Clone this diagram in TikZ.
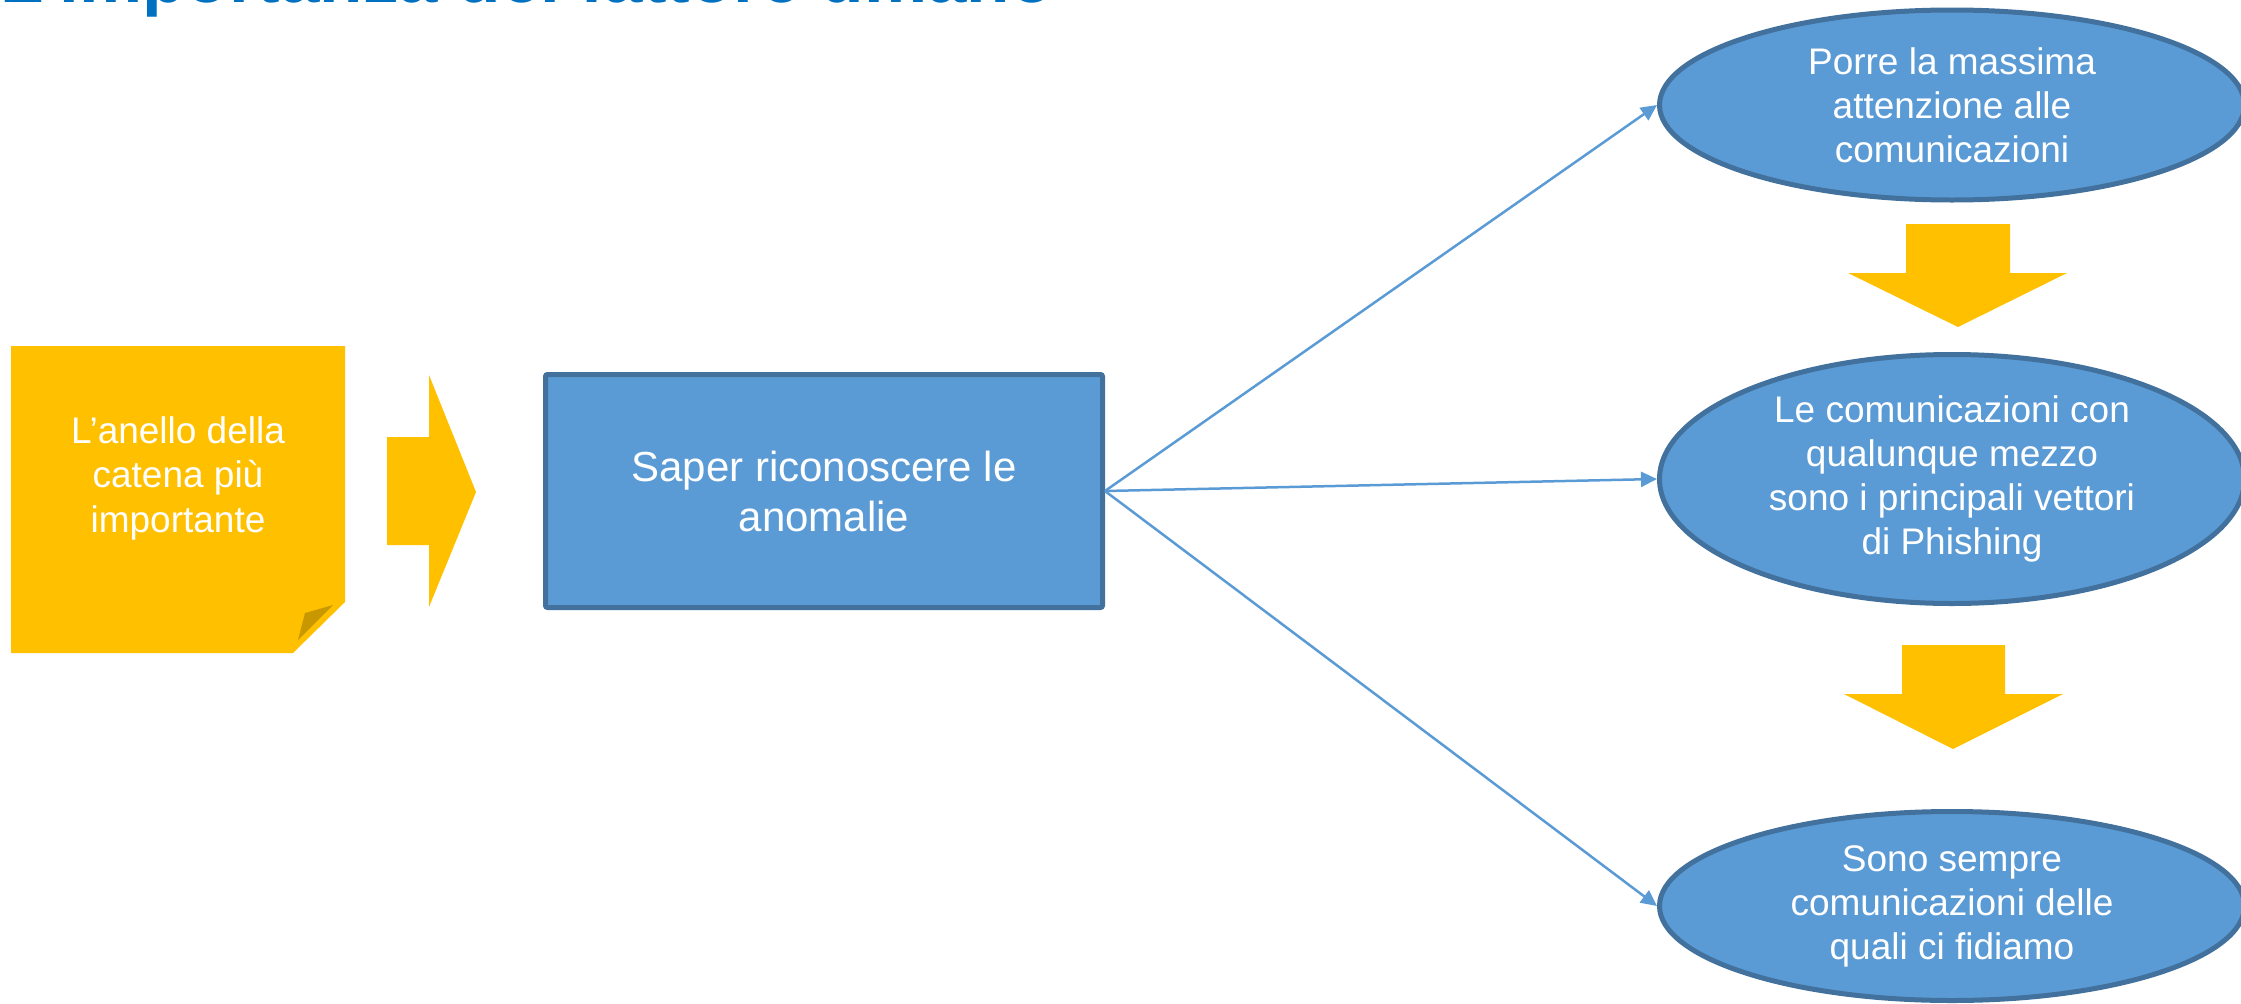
\documentclass[tikz,border=0pt]{standalone}
\usepackage{fontspec}
\setmainfont{Liberation Sans}
\usetikzlibrary{shapes.geometric,arrows.meta}
\definecolor{fillblue}{HTML}{5B9BD5}
\definecolor{edgeblue}{HTML}{41719C}
\definecolor{gold}{HTML}{FFC000}
\definecolor{folddark}{HTML}{C99700}
\definecolor{titleblue}{HTML}{0070C0}
\begin{document}
\begin{tikzpicture}[x=1pt,y=-1pt,
  bluebox/.style={draw=edgeblue, fill=fillblue, line width=5pt, text=white, align=center, inner sep=0pt},
  oval/.style={bluebox, ellipse, minimum width=585pt, font=\fontsize{37}{44}\selectfont},
  conn/.style={draw=fillblue, line width=2.5pt, -{Triangle[length=16pt,width=15pt]}},
  goldshape/.style={fill=gold, draw=none},
]
\useasboundingbox (0,0) rectangle (2241,1004);
\clip (0,0) rectangle (2241,1004);

% title (mostly cut off at the top)
\node[anchor=base west, inner sep=0pt, text=titleblue,
      font=\bfseries\fontsize{71}{85}\selectfont] (title) at (0,2.5) {L’importanza del fattore umano};

% sticky note
\path[goldshape] (11,346) -- (345,346) -- (345,602) -- (293,653) -- (11,653) -- cycle;
\fill[folddark] (305,613) -- (333,605) -- (298,640) -- cycle;
\node[text=white, align=center, inner sep=0pt, font=\fontsize{37}{44.5}\selectfont] (note) at (178,478)
  {L’anello della\\catena più\\importante};

% right arrow
\path[goldshape] (387,437) -- (429,437) -- (429,375) -- (476,492) -- (429,607) -- (429,545) -- (387,545) -- cycle;

% central box
\node[bluebox, rectangle, rounded corners=2pt, minimum width=557pt, minimum height=233pt,
      font=\fontsize{42}{50}\selectfont] (rect) at (824,491) {Saper riconoscere le\\anomalie};

% ellipses
\node[oval, minimum height=190pt] (e1) at (1952,105) {Porre la massima\\attenzione alle\\comunicazioni};
\node[oval, minimum height=249pt] (e2) at (1952,479) {Le comunicazioni con\\qualunque mezzo\\sono i principali vettori\\di Phishing};
\node[oval, minimum height=189pt] (e3) at (1952,906) {Sono sempre\\comunicazioni delle\\quali ci fidiamo};

% down arrows
\path[goldshape] (1906,224) -- (2010,224) -- (2010,273) -- (2067,273) -- (1958,327) -- (1848,273) -- (1906,273) -- cycle;
\path[goldshape] (1902,645) -- (2005,645) -- (2005,694) -- (2063,694) -- (1953,749) -- (1844,694) -- (1902,694) -- cycle;

% connectors
\draw[conn] (rect.east) -- (e1.west);
\draw[conn] (rect.east) -- (e2.west);
\draw[conn] (rect.east) -- (e3.west);
\end{tikzpicture}
\end{document}
